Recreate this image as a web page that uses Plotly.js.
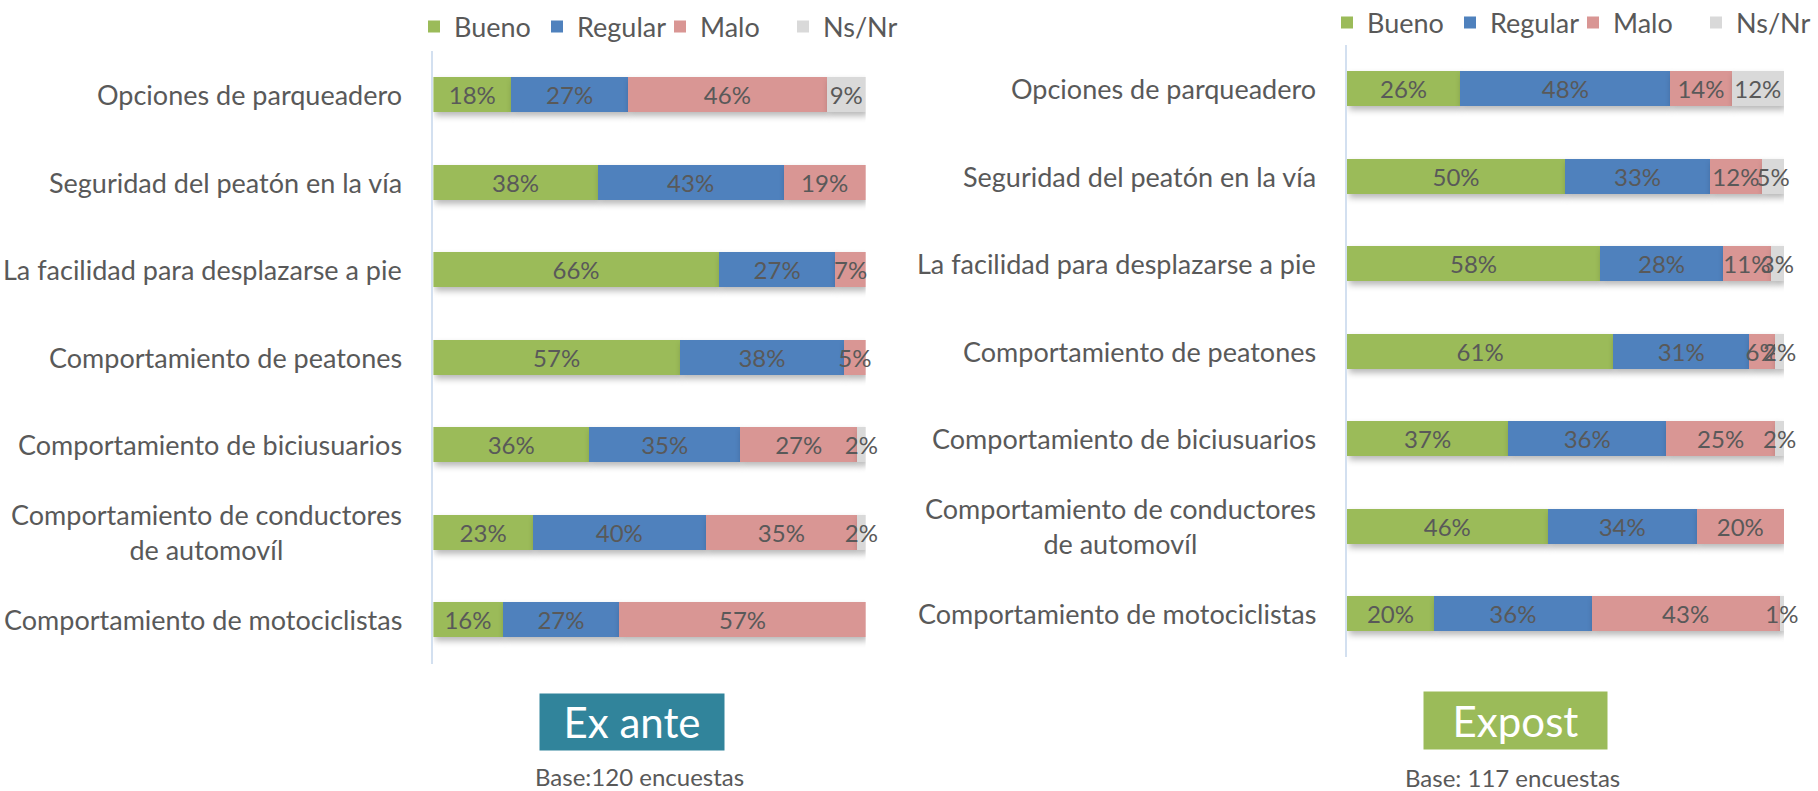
<!DOCTYPE html>
<html>
<head>
<meta charset="utf-8">
<script src="https://cdn.plot.ly/plotly-3.0.1.min.js"></script>
<style>
html,body{margin:0;padding:0;background:#fff;}
#chart{width:1818px;height:791px;}
#chart .barlayer .point path{filter:drop-shadow(2px 4px 3px rgba(0,0,0,0.28));}
</style>
</head>
<body>
<div id="chart"></div>
<script>
const categories = [
  'Opciones de parqueadero',
  'Seguridad del peatón en la vía',
  'La facilidad para desplazarse a pie',
  'Comportamiento de peatones',
  'Comportamiento de biciusuarios',
  'Comportamiento de conductores<br>de automovíl',
  'Comportamiento de motociclistas'
];
const seriesNames = ['Bueno', 'Regular', 'Malo', 'Ns/Nr'];

const exAnteBueno   = [18, 38, 66, 57, 36, 23, 16];
const exAnteRegular = [27, 43, 27, 38, 35, 40, 27];
const exAnteMalo    = [46, 19, 7, 5, 27, 35, 57];
const exAnteNsNr    = [9, null, null, null, 2, 2, null];

const expostBueno   = [26, 50, 58, 61, 37, 46, 20];
const expostRegular = [48, 33, 28, 31, 36, 34, 36];
const expostMalo    = [14, 12, 11, 6, 25, 20, 43];
const expostNsNr    = [12, 5, 3, 2, 2, null, 1];

const panelTitles = ['Ex ante', 'Expost'];
const baseTexts = ['Base:120 encuestas', 'Base: 117 encuestas'];

const colors = ['#9BBB59', '#4F81BD', '#D99694', '#D9D9D9'];
const FONT = 'Lato, "Open Sans", sans-serif';
const TXT = '#595959';

function makeTraces(values, xa, ya, legendId) {
  return values.map((v, i) => ({
    type: 'bar',
    orientation: 'h',
    name: seriesNames[i],
    x: v,
    y: categories,
    xaxis: xa,
    yaxis: ya,
    legend: legendId,
    marker: {color: colors[i], line: {width: 0}},
    texttemplate: '%{x}%',
    textposition: 'inside',
    insidetextanchor: 'middle',
    constraintext: 'none',
    textangle: 0,
    textfont: {family: FONT, size: 24, color: TXT},
    cliponaxis: false,
    hoverinfo: 'x+y+name'
  }));
}

const traces = [
  ...makeTraces([exAnteBueno, exAnteRegular, exAnteMalo, exAnteNsNr], 'x', 'y', 'legend'),
  ...makeTraces([expostBueno, expostRegular, expostMalo, expostNsNr], 'x2', 'y2', 'legend2')
];

const W = 1818, H = 791;
const px = v => v / W, py = v => 1 - v / H;

const yCommon = {
  type: 'category',
  autorange: 'reversed',
  showticklabels: false,
  ticks: '',
  showgrid: false,
  zeroline: false,
  showline: true,
  linecolor: '#D3E0F0',
  linewidth: 1.5
};
const xCommon = {
  range: [0, 100],
  visible: false,
  showgrid: false,
  zeroline: false,
  fixedrange: true
};

const annotations = [];
[['x', 'y'], ['x2', 'y2']].forEach(([xa, ya]) => {
  categories.forEach(c => {
    annotations.push({
      xref: xa + ' domain', yref: ya, x: 0, y: c,
      xanchor: 'right', yanchor: 'middle', xshift: -29,
      text: c, align: 'center', showarrow: false,
      font: {family: FONT, size: 27, color: TXT}
    });
  });
});

annotations.push(
  {xref: 'paper', yref: 'paper', x: px(631.5), y: py(722), xanchor: 'center', yanchor: 'middle',
   text: panelTitles[0], showarrow: false, width: 184, height: 56, borderpad: 0, bgcolor: '#31849B',
   font: {family: FONT, size: 42, color: '#FFFFFF'}},
  {xref: 'paper', yref: 'paper', x: px(1515.5), y: py(720.5), xanchor: 'center', yanchor: 'middle',
   text: panelTitles[1], showarrow: false, width: 183, height: 57, borderpad: 0, bgcolor: '#9BBB59',
   font: {family: FONT, size: 42, color: '#FFFFFF'}},
  {xref: 'paper', yref: 'paper', x: px(639.5), y: py(776), xanchor: 'center', yanchor: 'middle',
   text: baseTexts[0], showarrow: false, font: {family: FONT, size: 24, color: TXT}},
  {xref: 'paper', yref: 'paper', x: px(1512), y: py(777), xanchor: 'center', yanchor: 'middle',
   text: baseTexts[1], showarrow: false, font: {family: FONT, size: 24, color: TXT}}
);

const legendCommon = {
  orientation: 'h',
  xanchor: 'left',
  yanchor: 'middle',
  traceorder: 'normal',
  entrywidth: 78,
  entrywidthmode: 'pixels',
  font: {family: FONT, size: 27, color: TXT},
  bgcolor: 'rgba(0,0,0,0)',
  itemclick: false,
  itemdoubleclick: false
};

const layout = {
  width: W,
  height: H,
  margin: {l: 0, r: 0, t: 0, b: 0, autoexpand: false},
  paper_bgcolor: '#FFFFFF',
  plot_bgcolor: '#FFFFFF',
  barmode: 'stack',
  bargap: 0.6,
  showlegend: true,
  font: {family: FONT, color: TXT},
  xaxis: Object.assign({}, xCommon, {domain: [px(433.4), px(865.7)], anchor: 'y'}),
  yaxis: Object.assign({}, yCommon, {domain: [py(663.6), py(50.7)], anchor: 'x'}),
  xaxis2: Object.assign({}, xCommon, {domain: [px(1346.7), px(1784)], anchor: 'y2'}),
  yaxis2: Object.assign({}, yCommon, {domain: [py(657.4), py(45)], anchor: 'x2'}),
  legend: Object.assign({}, legendCommon, {x: px(414), y: py(27)}),
  legend2: Object.assign({}, legendCommon, {x: px(1327), y: py(23)}),
  annotations: annotations
};

Plotly.newPlot('chart', traces, layout, {displayModeBar: false});
</script>
</body>
</html>
